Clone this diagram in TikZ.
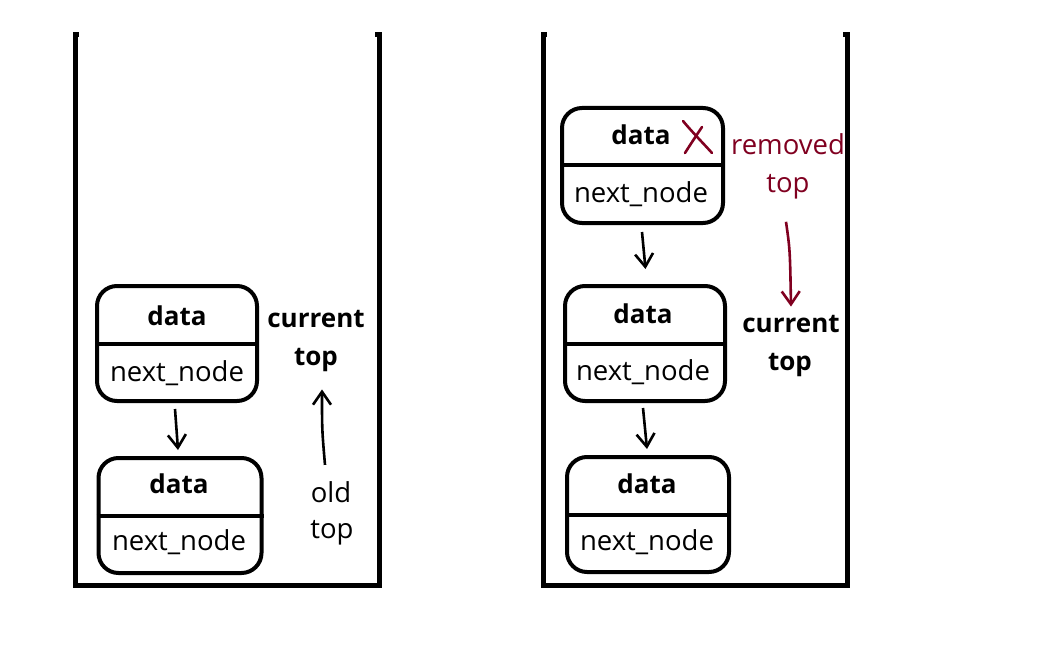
\documentclass[tikz,border=0pt]{standalone}
\usepackage{fontspec}
\setmainfont{Open Sans}
\usetikzlibrary{arrows.meta}
\definecolor{rm}{RGB}{128,0,32}
\begin{document}
\begin{tikzpicture}[x=1pt,y=-1pt,
  font=\fontsize{27.5}{30}\selectfont,
  box/.style={draw, line width=4, rounded corners=20, minimum height=115, inner sep=0},
  divider/.style={line width=4},
  wall/.style={line width=5, line cap=rect},
  txt/.style={inner sep=0, anchor=base},
  btxt/.style={inner sep=0, anchor=base, font=\fontsize{26}{30}\selectfont\bfseries},
  arr/.style={line width=2.6, -{Straight Barb[length=13pt,width=18pt,line width=2.6pt]}},
  rarr/.style={arr, draw=rm},
  cross/.style={rm, line width=2.6, line cap=round}
]
\useasboundingbox (0,0) rectangle (1038,647);
% containers
\draw[wall] (75,35) -- (75,585) -- (379,585) -- (379,35);
\draw[wall] (543,35) -- (543,585) -- (847,585) -- (847,35);
\draw[line width=5] (73,35) -- (79,35);
\draw[line width=5] (375,35) -- (381,35);
\draw[line width=5] (541,35) -- (547,35);
\draw[line width=5] (843,35) -- (849,35);

% left stack
\node[box, minimum width=160] (L1) at (177,343.5) {};
\draw[divider] (L1.west) -- (L1.east);
\node[btxt] (L1d) at (177,325) {data};
\node[txt] (L1n) at (177,381) {next\_node};

\node[box, minimum width=163] (L2) at (180,515.5) {};
\draw[divider] (L2.west) -- (L2.east);
\node[btxt] (L2d) at (179,493) {data};
\node[txt] (L2n) at (179,550) {next\_node};

\draw[arr] ([xshift=-2,yshift=-6]L1.south) -- ([xshift=-2,yshift=6]L2.north);

\node[btxt] (Lc1) at (316,327) {current};
\node[btxt] (Lc2) at (316,365) {top};
\node[txt] (Lo1) at (331,502) {old};
\node[txt] (Lo2) at (332,538) {top};
\draw[arr] ([xshift=-6,yshift=16]Lo1.north) .. controls (322,430) .. ([xshift=6,yshift=-18]Lc2.south);

% right stack
\node[box, minimum width=161] (R1) at (642.5,165.5) {};
\draw[divider] (R1.west) -- (R1.east);
\node[btxt] (R1d) at (641,145) {data};
\node[txt] (R1n) at (641,202) {next\_node};
\draw[cross] (683,121) .. controls (693,133) and (703,143) .. (712,153);
\draw[cross] (702,127) .. controls (696,136) and (690,145) .. (685,153);

\node[txt, text=rm] (Rr1) at (788,155) {removed};
\node[txt, text=rm] (Rr2) at (788,193) {top};

\node[box, minimum width=160] (R2) at (645,343.5) {};
\draw[divider] (R2.west) -- (R2.east);
\node[btxt] (R2d) at (643,323) {data};
\node[txt] (R2n) at (643,380) {next\_node};

\node[btxt] (Rc1) at (791,332) {current};
\node[btxt] (Rc2) at (790,370) {top};

\node[box, minimum width=162] (R3) at (648,514.5) {};
\draw[divider] (R3.west) -- (R3.east);
\node[btxt] (R3d) at (647,493) {data};
\node[txt] (R3n) at (647,550) {next\_node};

\draw[arr] ([xshift=-0.5,yshift=-7]R1.south) -- ([xshift=0.5,yshift=15]R2.north);
\draw[arr] ([xshift=-2,yshift=-5]R2.south) -- ([xshift=-1,yshift=6]R3.north);
\draw[rarr] ([xshift=-2,yshift=-22]Rr2.south) .. controls (790,250) .. ([xshift=0,yshift=8]Rc1.north);
\end{tikzpicture}
\end{document}
